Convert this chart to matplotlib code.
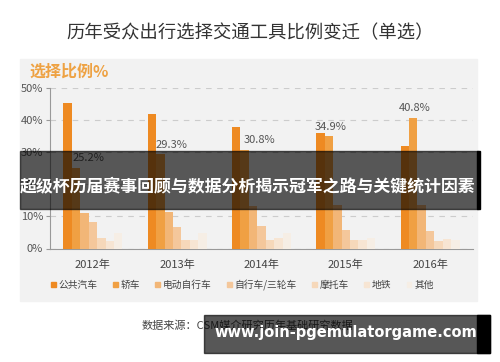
import matplotlib
matplotlib.use("Agg")
import numpy as np
import matplotlib.pyplot as plt
from matplotlib.patches import Rectangle, Patch

plt.rcParams['font.family'] = ['Noto Sans CJK SC', 'DejaVu Sans']

years = ["2012年", "2013年", "2014年", "2015年", "2016年"]
modes = ["公共汽车", "轿车", "电动自行车", "自行车/三轮车", "摩托车", "地铁", "其他"]
bus = [45.2, 41.8, 37.7, 36.0, 32.0]
car = [25.2, 29.3, 30.8, 34.9, 40.8]
ebike = [11.0, 11.5, 13.3, 13.6, 13.6]
bicycle = [8.2, 6.6, 6.9, 5.9, 5.3]
motorcycle = [3.3, 2.8, 2.8, 2.6, 2.3]
subway = [2.3, 2.6, 3.4, 2.7, 3.0]
other = [4.8, 4.8, 4.9, 3.2, 2.5]
series = [bus, car, ebike, bicycle, motorcycle, subway, other]
colors = ["#ee8a22", "#f0a043", "#f2b677", "#f4c79b", "#f6d8ba", "#f7e5d3", "#f6eee5"]
car_labels = ["25.2%", "29.3%", "30.8%", "34.9%", "40.8%"]
label_dx = [0.15, 0.13, 0.17, 0.02, 0.02]

fig = plt.figure(figsize=(5, 3.62), dpi=100)
fig.patch.set_facecolor("white")

# gray panel behind chart
fig.patches.append(Rectangle((20/500, 1-301/362), 457/500, 242/362,
                             transform=fig.transFigure, color="#f2f2f2", zorder=-5))

fig.text(0.5, 1-33/362, "历年受众出行选择交通工具比例变迁（单选）", ha="center", va="center",
         fontsize=13.2, color="#333333")
fig.text(30/500, 1-72/362, "选择比例%", ha="left", va="center", fontsize=11.5,
         fontweight="bold", color="#eea243")

ax = fig.add_axes([50/500, 1-248.5/362, 423/500, 160.5/362])
ax.set_zorder(1)
ax.set_facecolor("none")
x = np.arange(len(years))
w = 0.1
for i, vals in enumerate(series):
    ax.bar(x + (i - 3) * w, vals, width=w, color=colors[i], label=modes[i], zorder=3)
for j, lab in enumerate(car_labels):
    ax.annotate(lab, (x[j] - 2 * w + label_dx[j], car[j]), xytext=(0, 3), textcoords="offset points",
                ha="center", va="bottom", fontsize=8, color="#555555", zorder=4)

ax.set_xlim(-0.51, 4.51)
ax.set_ylim(0, 50)
ax.set_yticks([0, 10, 20, 30, 40, 50])
ax.set_yticklabels(["0%", "10%", "20%", "30%", "40%", "50%"])
ax.set_xticks(x)
ax.set_xticklabels(years)
ax.tick_params(axis="y", length=3, color="#999999", labelsize=8, labelcolor="#555555", pad=2)
ax.tick_params(axis="x", length=0, labelsize=8, labelcolor="#444444", pad=8)
ax.grid(axis="y", linestyle=(0, (5, 5)), color="#cccccc", linewidth=0.8, zorder=1)
for s in ["top", "right"]:
    ax.spines[s].set_visible(False)
ax.spines["left"].set_color("#999999")
ax.spines["bottom"].set_color("#999999")

handles = [Patch(color=c) for c in colors]
fig.legend(handles, modes, loc="center", bbox_to_anchor=(0.485, 1-285/362), ncol=7, frameon=False,
           fontsize=7, handlelength=0.5, handleheight=0.5, handletextpad=0.3, columnspacing=1.55,
           labelcolor="#444444")

fig.text(142/500, 1-326/362, "数据来源：CSM媒介研究历年基础研究数据", ha="left", va="center",
         fontsize=8, color="#444444")

# overlay banner
ov = fig.add_axes([0, 0, 1, 1])
ov.set_zorder(10)
ov.set_axis_off()
ov.set_xlim(0, 500)
ov.set_ylim(362, 0)
ov.add_patch(Rectangle((20, 151), 458, 58, color="black", alpha=0.64))
ov.add_patch(Rectangle((477, 151), 3, 58, color="black"))
ov.text(248, 186, "超级杯历届赛事回顾与数据分析揭示冠军之路与关键统计因素", ha="center",
        va="center", fontsize=12.2, fontweight="bold", color="white")

# watermark
ov.add_patch(Rectangle((204, 315), 286, 38, color="black", alpha=0.66))
ov.add_patch(Rectangle((477, 315), 13, 38, color="black"))
ov.text(346, 332, "www.join-pgemulatorgame.com", ha="center", va="center",
        fontsize=10.5, fontweight="bold", color="white", family="DejaVu Sans")

fig.savefig("out.png", dpi=100)
